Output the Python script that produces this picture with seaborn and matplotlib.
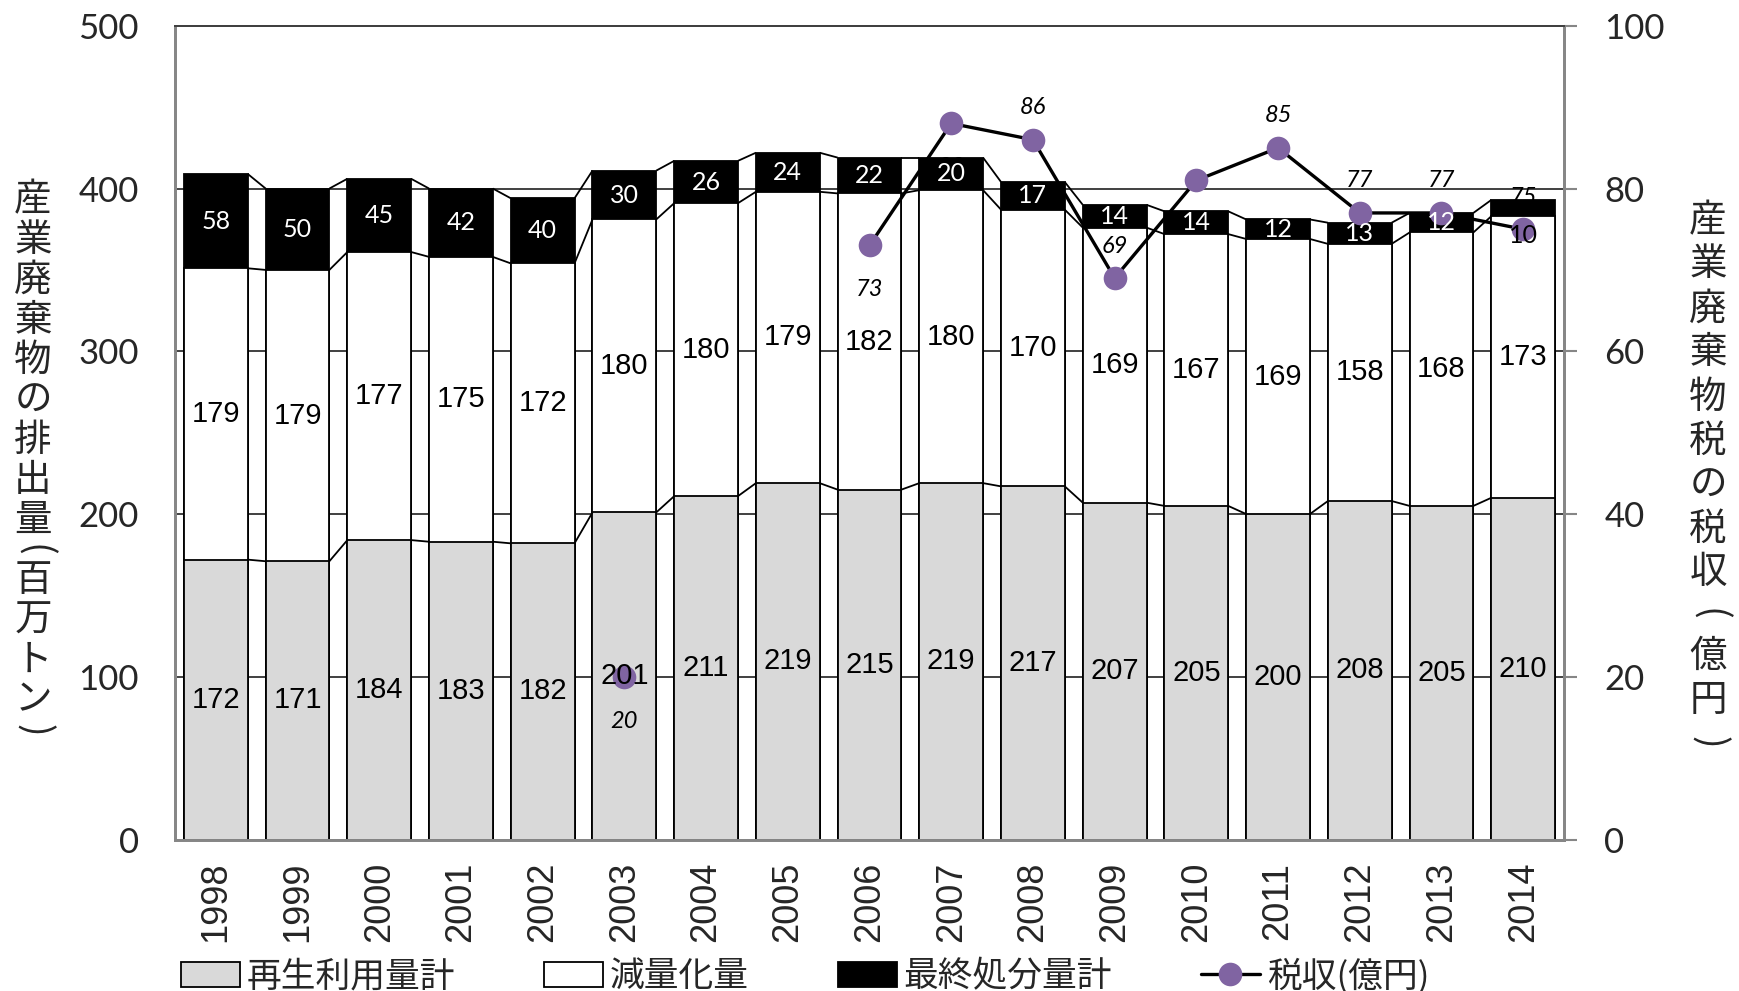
import numpy as np
import pandas as pd
import matplotlib
matplotlib.use("Agg")
import matplotlib.pyplot as plt
import seaborn as sns
from matplotlib.patches import Patch
from matplotlib.lines import Line2D

# ---------------- data ----------------
years = [str(y) for y in range(1998, 2015)]
recycled = [172, 171, 184, 183, 182, 201, 211, 219, 215, 219, 217, 207, 205, 200, 208, 205, 210]
reduced = [179, 179, 177, 175, 172, 180, 180, 179, 182, 180, 170, 169, 167, 169, 158, 168, 173]
landfill = [58, 50, 45, 42, 40, 30, 26, 24, 22, 20, 17, 14, 14, 12, 13, 12, 10]
tax = [np.nan, np.nan, np.nan, np.nan, np.nan, 20, np.nan, np.nan,
       73, 88, 86, 69, 81, 85, 77, 77, 75]
# label placement for the tax series: +1 above marker, -1 below
tax_label_side = [0, 0, 0, 0, 0, -1, 0, 0, -1, -1, 1, 1, -1, 1, 1, 1, 1]

legend_labels = ["再生利用量計", "減量化量", "最終処分量計", "税収(億円)"]
ylabel_left = "産業廃棄物の排出量（百万トン）"
ylabel_right = "産業廃棄物税の税収（億円）"

# ---------------- style ----------------
sns.set_theme(style="white")
plt.rcParams['font.family'] = ['Liberation Sans', 'Noto Sans CJK JP', 'DejaVu Sans']

GRAY = "#D9D9D9"
PURPLE = "#8064A2"
SPINE = "#868686"
GRID = "#404040"
W = 0.78

df = pd.DataFrame({"year": years, "recycled": recycled,
                   "reduced": reduced, "landfill": landfill, "tax": tax})
df["top2"] = df["recycled"] + df["reduced"]
df["top3"] = df["top2"] + df["landfill"]

FIG_W, FIG_H = 1739, 991
fig = plt.figure(figsize=(FIG_W / 100, FIG_H / 100), dpi=100)
ax = fig.add_axes([0.1006, 0.1528, 0.7988, 0.8212])

common = dict(data=df, x="year", width=W, edgecolor="black", linewidth=1.3,
              saturation=1, errorbar=None, ax=ax)
sns.barplot(y="top3", color="black", **common)
sns.barplot(y="top2", color="white", **common)
sns.barplot(y="recycled", color=GRAY, **common)

n = len(years)
xs = np.arange(n)
# series connector lines between stacked bars
for col in ["recycled", "top2", "top3"]:
    v = df[col].values
    for i in range(n - 1):
        ax.plot([xs[i] + W / 2, xs[i + 1] - W / 2], [v[i], v[i + 1]],
                color="black", lw=1.3, zorder=3, solid_capstyle="butt")

ax.set_xlim(-0.5, n - 0.5)
ax.set_ylim(0, 500)
ax.set_yticks([0, 100, 200, 300, 400, 500])
ax.set_axisbelow(True)
ax.yaxis.grid(True, color=GRID, lw=1.4)
ax.xaxis.grid(False)
ax.set_xlabel("")
ax.set_ylabel("")
ax.tick_params(axis="x", length=0, pad=16, labelsize=26, rotation=90)
ax.tick_params(axis="y", length=0, pad=26, labelsize=25)
for lab in ax.get_yticklabels():
    lab.set_fontfamily("Lato")
for lab in ax.get_xticklabels():
    lab.set_fontfamily("Liberation Sans")

ax2 = ax.twinx()
ax2.plot(xs, df["tax"].values, color="black", lw=2.4, marker="o",
         markersize=17, markerfacecolor=PURPLE, markeredgewidth=0, zorder=4)
ax2.set_ylim(0, 100)
ax2.set_xlim(-0.5, n - 0.5)
ax2.set_yticks([0, 20, 40, 60, 80, 100])
ax2.tick_params(axis="y", direction="out", length=9, width=1.5, color=SPINE,
                pad=20, labelsize=25)
for lab in ax2.get_yticklabels():
    lab.set_fontfamily("Lato")
ax2.grid(False)

for a in (ax, ax2):
    for s in ["left", "right", "bottom"]:
        a.spines[s].set_color(SPINE)
        a.spines[s].set_linewidth(2)
    a.spines["top"].set_color(GRID)
    a.spines["top"].set_linewidth(1.4)

# ---------------- data labels ----------------
for i in range(n):
    t = tax[i]
    if np.isnan(t):
        continue
    off = 23 if tax_label_side[i] > 0 else -32
    ax2.annotate(f"{int(t)}", (xs[i], t), xytext=(0, off), textcoords="offset points",
                 ha="center", va="center", fontsize=17, family="Lato", style="italic",
                 color="black", zorder=5)

for i in range(n):
    r, d, l = recycled[i], reduced[i], landfill[i]
    ax2.text(xs[i], r / 2, f"{r}", transform=ax.transData, ha="center", va="center",
             fontsize=21, family="Liberation Sans", color="black", zorder=6)
    ax2.text(xs[i], r + d / 2, f"{d}", transform=ax.transData, ha="center", va="center",
             fontsize=21, family="Liberation Sans", color="black", zorder=6)
    if l >= 11:
        ax2.text(xs[i], r + d + l / 2, f"{l}", transform=ax.transData, ha="center",
                 va="center", fontsize=18, family="Lato", color="white", zorder=6)
    else:
        ax2.text(xs[i], r + d - 12, f"{l}", transform=ax.transData, ha="center",
                 va="center", fontsize=18, family="Lato", color="black", zorder=6)

# ---------------- axis titles (vertical stacked characters) ----------------
def vertical_title(text, x_px, top_px, step_px, paren_adv, size):
    y = top_px
    for ch in text:
        if ch in "（）":
            adv = paren_adv * step_px
            yc = y + adv * 0.5
            fig.text(x_px / FIG_W, 1 - yc / FIG_H, "(" if ch == "（" else ")",
                     ha="center", va="center", fontsize=size,
                     family="Noto Sans CJK JP", rotation=-90)
        else:
            adv = step_px
            yc = y + adv / 2
            fig.text(x_px / FIG_W, 1 - yc / FIG_H, ch, ha="center", va="center",
                     fontsize=size, family="Noto Sans CJK JP")
        y += adv

vertical_title(ylabel_left, 33, 180, 40, 0.5, 27)
vertical_title(ylabel_right, 1708, 199, 44, 0.9, 27)

# ---------------- legend ----------------
handles = [Patch(facecolor=GRAY, edgecolor="black", linewidth=1.3),
           Patch(facecolor="white", edgecolor="black", linewidth=1.3),
           Patch(facecolor="black", edgecolor="black", linewidth=1.3),
           Line2D([0], [0], color="black", lw=2.4, marker="o", markersize=17,
                  markerfacecolor=PURPLE, markeredgewidth=0)]
fig.legend(handles, legend_labels, loc="lower center", bbox_to_anchor=(0.463, -0.035),
           ncol=4, frameon=False, prop={"family": "Noto Sans CJK JP", "size": 25},
           handlelength=1.7, handleheight=0.75, handletextpad=0.2, columnspacing=2.55)

fig.savefig("out.png", dpi=100)
